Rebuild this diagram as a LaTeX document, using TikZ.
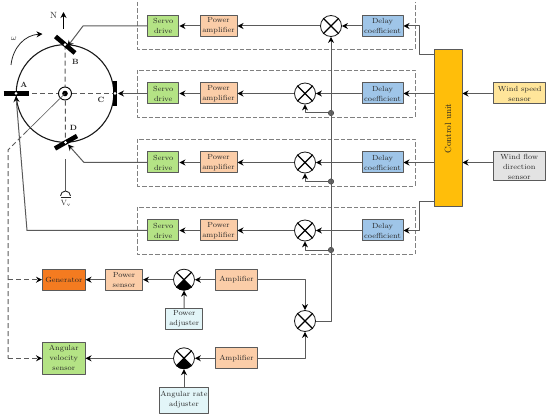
\documentclass[tikz,border=0pt]{standalone}
\usepackage{xcolor}
\usepackage{tikz}
\usetikzlibrary{arrows.meta,calc}

\definecolor{servogreen}{HTML}{B4E385}
\definecolor{ampbeige}{HTML}{FBCDA8}
\definecolor{delayblue}{HTML}{9FC5E8}
\definecolor{ctrlorange}{HTML}{FFBE0A}
\definecolor{speedyellow}{HTML}{FFE59A}
\definecolor{flowgray}{HTML}{E3E3E3}
\definecolor{genorange}{HTML}{F47B20}
\definecolor{adjustcyan}{HTML}{E2F5F8}
\definecolor{linegray}{HTML}{5A5A5A}

\tikzset{
  blockbox/.style={draw=linegray,line width=1pt,minimum width=#1,align=center,inner sep=0pt,
    font=\fontsize{7.4}{10}\selectfont,text=black!85},
  mixer/.style={circle,draw=black!90,fill=white,line width=0.8pt,minimum size=21pt,inner sep=0pt},
  signal/.style={-{Stealth[length=6pt,width=6pt,black]},linegray,line width=1pt},
  plainline/.style={linegray,line width=1pt},
  rowframe/.style={draw=black!50,dash pattern=on 4.5pt off 2pt,line width=0.9pt},
  dashsignal/.style={-{Stealth[length=6pt,width=6pt,black]},linegray,line width=1pt,dash pattern=on 5pt off 3pt},
  joint/.style={circle,fill=black!60,draw=black!80,line width=0.4pt,minimum size=5.5pt,inner sep=0pt},
  bladeline/.style={line width=4.6pt,black},
  labeltext/.style={font=\fontsize{7.6}{9}\selectfont,text=black!85,inner sep=0pt},
}

\newcommand{\crossmixer}[1]{%
  \draw[line width=1.2pt] (#1.north west) -- (#1.south east) (#1.north east) -- (#1.south west);}
\newcommand{\halfmixer}[1]{%
  \fill[black] (#1.center) -- (#1.south west) arc (225:315:10.5pt) -- cycle;
  \crossmixer{#1}}

\begin{document}
\begin{tikzpicture}[x=1pt,y=-1pt,line join=round]
  \useasboundingbox (0,0) rectangle (550,420);
  % row frames
  \draw[rowframe] (137,2) -- (137,49) -- (415,49) -- (415,2);
  \draw[rowframe] (137,70) rectangle (415,117);
  \draw[rowframe] (137,139) rectangle (415,186);
  \draw[rowframe] (137,207) rectangle (415,254);
  % turbine
  \coordinate (hub) at (65,93.5);
  \coordinate (tipA) at (16,93.5);
  \coordinate (tipB) at (65,44.6);
  \coordinate (tipC) at (115,93.5);
  \coordinate (tipD) at (65.5,142.5);
  \draw[plainline,dash pattern=on 5pt off 3pt] (tipA) -- (tipC);
  \draw[plainline,dash pattern=on 5pt off 3pt] (tipB) -- (tipD);
  \draw[line width=1.1pt,black!90] (hub) circle (48.8);
  \draw[bladeline] (3.5,93.5) -- (29,93.5);
  \draw[bladeline] (55.5,36.5) -- (75,53);
  \draw[bladeline] (115,81) -- (115,106);
  \draw[bladeline] (55,148.5) -- (77,136);
  \fill[white] (tipA) circle (1.5) (tipB) circle (1.5) (tipC) circle (1.5) (tipD) circle (1.5);
  \draw[fill=white,line width=0.9pt] (hub) circle (6.5);
  \fill[black] (hub) circle (2.8);
  \node[labeltext] (labA) at (24,84.5) {\textbf{A}};
  \node[labeltext] (labB) at (75.5,62) {\textbf{B}};
  \node[labeltext] (labC) at (101,100) {\textbf{C}};
  \node[labeltext] (labD) at (73.5,128) {\textbf{D}};
  % north and rotation
  \coordinate (northS) at (63.5,29);
  \coordinate (northE) at (63.5,12);
  \draw[signal,black] (northS) -- (northE);
  \node[labeltext,font=\fontsize{9}{9}\selectfont] (north) at (53.5,15.5) {N};
  \draw[-{Stealth[length=6pt,width=6pt,black]},line width=0.8pt,black!85] (11,65) .. controls (13,47) and (25,35) .. (42.5,34);
  \node[labeltext] (omega) at (14,39) {$\omega$};
  \coordinate (vaneS) at (65.5,159.5);
  \coordinate (vaneE) at (65.5,191);
  \draw[plainline] (vaneS) -- (vaneE);
  \draw[line width=0.9pt,black!85] (60.5,196) arc (180:360:5);
  \draw[line width=0.7pt,black!85] (60.5,197.5) -- (70.5,197.5);
  \node[labeltext] (vv) at (66,203) {V$_{\mathrm{v}}$};
  % rows
  \foreach \nm/\ry/\mx in {a/26/331,b/93.5/305,c/162.5/305,d/230.5/305} {
    \node[blockbox=31.5pt,fill=servogreen,minimum height=21pt] (servo\nm) at (163.2,\ry) {Servo\\drive};
    \node[blockbox=37pt,fill=ampbeige,minimum height=21pt] (power\nm) at (218.5,\ry) {Power\\amplifier};
    \node[blockbox=41pt,fill=delayblue,minimum height=21pt] (delay\nm) at (382.5,\ry) {Delay\\coefficient};
    \node[mixer] (mix\nm) at (\mx,\ry) {};
    \crossmixer{mix\nm}
    \draw[signal] (delay\nm) -- (mix\nm);
    \draw[signal] (mix\nm) -- (power\nm);
    \draw[signal] (power\nm) -- (servo\nm);
  }
  % control unit and sensors
  \node[blockbox=28pt,fill=ctrlorange,minimum height=157pt] (ctrl) at (448,128.5) {};
  \node[labeltext,font=\fontsize{9}{9}\selectfont,rotate=90] (ctrllabel) at (ctrl.center) {Control unit};
  \node[blockbox=52.5pt,fill=speedyellow,minimum height=21pt] (speed) at (519.7,93.5) {Wind speed\\sensor};
  \node[blockbox=52.5pt,fill=flowgray,minimum height=29pt] (flow) at (519.3,166.5) {Wind flow\\direction\\sensor};
  \draw[signal] (speed) -- (ctrl.east |- speed);
  \draw[signal] (flow.west |- delayc) -- (ctrl.east |- delayc);
  \draw[signal] (ctrl.west |- delayb) -- (delayb);
  \draw[signal] (ctrl.west |- delayc) -- (delayc);
  \coordinate (ctrlTop) at (434,55);
  \coordinate (ctrlBot) at (434,202);
  \draw[signal] (ctrlTop) -- (419,55) -- (419,26) -- (delaya);
  \draw[signal] (ctrlBot) -- (419,202) -- (419,230.5) -- (delayd);
  % lower loop
  \node[blockbox=42.5pt,fill=genorange,minimum height=21pt] (gen) at (63.8,279.7) {Generator};
  \node[blockbox=37pt,fill=ampbeige,minimum height=21pt] (psensor) at (124,279.7) {Power\\sensor};
  \node[mixer] (mixp) at (184,279.7) {};
  \halfmixer{mixp}
  \node[blockbox=42pt,fill=ampbeige,minimum height=21pt] (amp1) at (236.5,279.7) {Amplifier};
  \node[blockbox=36.5pt,fill=adjustcyan,minimum height=21pt] (padj) at (184.2,319) {Power\\adjuster};
  \node[mixer] (mixs) at (305,321) {};
  \crossmixer{mixs}
  \node[blockbox=42.5pt,fill=servogreen,minimum height=31.5pt] (avs) at (63.8,358.3) {Angular\\velocity\\sensor};
  \node[mixer] (mixw) at (184,358.3) {};
  \halfmixer{mixw}
  \node[blockbox=42pt,fill=ampbeige,minimum height=21pt] (amp2) at (236.5,358.3) {Amplifier};
  \node[blockbox=49pt,fill=adjustcyan,minimum height=26pt] (wadj) at (184,400) {Angular rate\\adjuster};
  \draw[signal] (amp1) -- (mixp);
  \draw[signal] (mixp) -- (psensor);
  \draw[signal] (psensor) -- (gen);
  \draw[signal] (padj) -- (mixp);
  \draw[signal] (amp2) -- (mixw);
  \draw[signal] (mixw) -- (avs);
  \draw[signal] (wadj) -- (mixw);
  \draw[signal] (amp1) -| (mixs);
  \draw[signal] (amp2) -| (mixs);
  % bus with joints
  \node[joint] (jointb) at (331,113) {};
  \node[joint] (jointc) at (331,181.5) {};
  \node[joint] (jointd) at (331,250) {};
  \draw[signal] (mixs) -| (mixa);
  \draw[signal] (jointb) -| (mixb);
  \draw[signal] (jointc) -| (mixc);
  \draw[signal] (jointd) -| (mixd);
  % servo links to blades
  \coordinate (bendA) at (27,230.5);
  \coordinate (armA) at (16,96);
  \coordinate (armB) at (67.5,46.5);
  \coordinate (armC) at (118,93.5);
  \coordinate (armD) at (68,144.5);
  \draw[signal] (servoa) -- (83,26) -- (armB);
  \draw[signal] (servob) -- (armC);
  \draw[signal] (servoc) -- (84,162.5) -- (armD);
  \draw[signal] (servod) -- (bendA) -- (armA);
  % dashed feedback
  \coordinate (fbTop) at (8,150);
  \draw[plainline,line width=0.6pt] (hub) -- (27,131);
  \draw[plainline,dash pattern=on 5pt off 3pt] (27,131) -- (fbTop) -- (8,358.3);
  \draw[dashsignal] (8,279.7) -- (gen);
  \draw[dashsignal] (8,358.3) -- (avs);
\end{tikzpicture}
\end{document}
